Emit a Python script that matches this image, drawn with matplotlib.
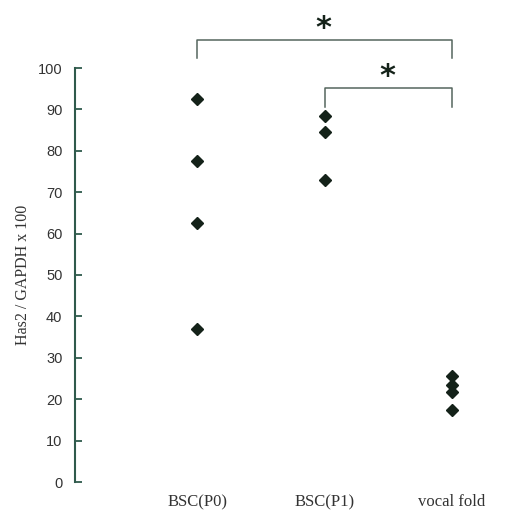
import matplotlib.pyplot as plt

categories = ["BSC(P0)", "BSC(P1)", "vocal fold"]
p0_values = [92.5, 77.5, 62.5, 37.0]
p1_values = [88.5, 84.5, 73.0]
vf_values = [25.5, 23.5, 21.8, 17.5]
y_ticks = [0, 10, 20, 30, 40, 50, 60, 70, 80, 90, 100]

# significance brackets: (left group, right group, bar level, leg bottom, star level)
brackets = [(1, 3, 106.8, 102.3, 109.6), (2, 3, 95.2, 90.6, 98.0)]

plt.rcParams['font.family'] = ['Liberation Serif', 'DejaVu Serif']

axis_color = "#2f5a4c"
point_color = "#142219"
bracket_color = "#55665e"

fig = plt.figure(figsize=(5.14, 5.23), dpi=100)
ax = fig.add_axes([75 / 514, 41 / 523, 425 / 514, 414 / 523])

groups = [p0_values, p1_values, vf_values]
for i, vals in enumerate(groups):
    ax.plot([i + 1] * len(vals), vals, linestyle="none", marker="D",
            markersize=6, color=point_color, clip_on=False)

for x0, x1, top, leg, star in brackets:
    ax.plot([x0, x0, x1, x1], [leg, top, top, leg], color=bracket_color,
            linewidth=1.1, clip_on=False)
    ax.text((x0 + x1) / 2 - 0.01, star, "*", ha="center", va="center",
            fontsize=22, fontweight="bold", color=point_color,
            family="DejaVu Sans")

ax.set_xlim(0.043, 3.376)
ax.set_ylim(0, 100)
ax.set_xticks([1, 2, 3])
ax.set_xticklabels(categories, fontsize=12, color="#333333")
ax.set_yticks(y_ticks)
ax.set_yticklabels([str(t) for t in y_ticks], fontsize=10.5, color="#333333",
                   family=["Liberation Sans", "DejaVu Sans"])
ax.tick_params(axis="x", length=0, pad=9)
ax.tick_params(axis="y", direction="in", length=5, width=1.3,
               color=axis_color, pad=9)

for side in ["top", "right", "bottom"]:
    ax.spines[side].set_visible(False)
ax.spines["left"].set_color(axis_color)
ax.spines["left"].set_linewidth(1.5)

ax.set_ylabel("Has2 / GAPDH x 100", fontsize=11.5, color="#333333", labelpad=5)

fig.savefig("out.png", dpi=100)
